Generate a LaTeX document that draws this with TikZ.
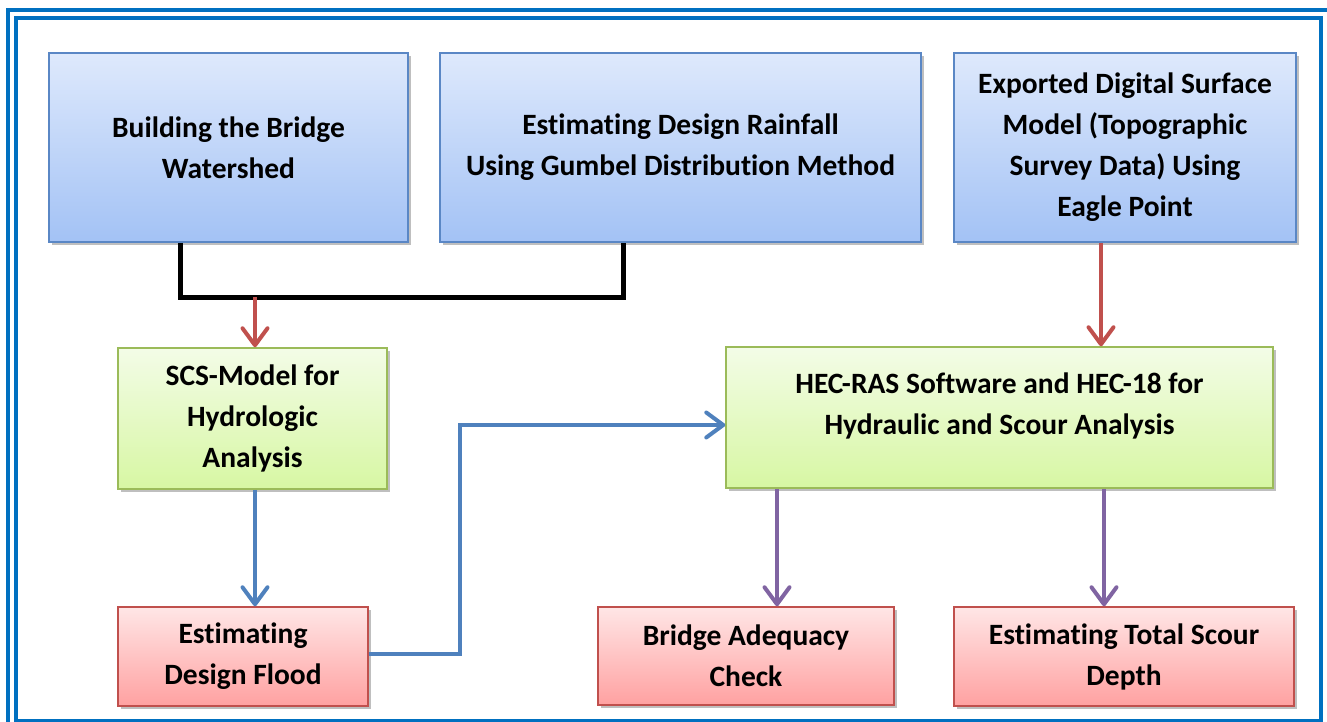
\documentclass[tikz,border=0pt]{standalone}
\usepackage{fontspec}
\setmainfont{Carlito}[Ligatures=NoCommon]
\usetikzlibrary{arrows.meta,shadows}
\definecolor{frameblue}{HTML}{0070C0}
\definecolor{bluetop}{HTML}{DEE9FC}
\definecolor{bluebot}{HTML}{A3C2F5}
\definecolor{blueedge}{HTML}{5A87C5}
\definecolor{greentop}{HTML}{F3FCE7}
\definecolor{greenbot}{HTML}{D7F7A3}
\definecolor{greenedge}{HTML}{9BBB59}
\definecolor{redtop}{HTML}{FFE6E6}
\definecolor{redbot}{HTML}{FFA1A1}
\definecolor{rededge}{HTML}{C0504D}
\definecolor{linkblue}{HTML}{4F81BD}
\definecolor{linkred}{HTML}{C0504D}
\definecolor{linkpurple}{HTML}{8064A2}
\tikzset{
  box/.style={rectangle, draw, line width=1.5pt, align=center,
    font=\fontsize{29.5}{41}\selectfont\bfseries, inner sep=0pt,
    drop shadow={shadow xshift=3pt, shadow yshift=-3pt, opacity=0.25, fill=black}},
  bluebox/.style={box, draw=blueedge, top color=bluetop, bottom color=bluebot},
  greenbox/.style={box, draw=greenedge, top color=greentop, bottom color=greenbot},
  redbox/.style={box, draw=rededge, top color=redtop, bottom color=redbot},
  tip/.style={-{Straight Barb[length=17pt,width=25pt,line cap=round,line join=round]}},
  redlink/.style={tip, draw=linkred, line width=4pt},
  bluelink/.style={draw=linkblue, line width=4pt, line join=miter},
  purplelink/.style={tip, draw=linkpurple, line width=4pt},
  blacklink/.style={draw=black, line width=5pt, line join=miter},
}
\begin{document}
\begin{tikzpicture}[x=1pt,y=-1pt]
\useasboundingbox (0,0) rectangle (1327,722);
% frame
\draw[frameblue, line width=4pt] (8,10.5) rectangle (1332,730);
\draw[frameblue, line width=4pt] (16,18) rectangle (1320.5,720.5);
% boxes
\node[bluebox, minimum width=359, minimum height=189] (b1) at (228.5,147.5) {Building the Bridge\\Watershed};
\node[bluebox, minimum width=481, minimum height=189] (b2) at (680.5,147.5) {Estimating Design Rainfall\\Using Gumbel Distribution Method};
\node[bluebox, minimum width=342, minimum height=189] (b3) at (1125,147.5) {Exported Digital Surface\\Model (Topographic\\Survey Data) Using\\Eagle Point};
\node[greenbox, minimum width=269, minimum height=141] (g1) at (252.5,418.5) {SCS-Model for\\Hydrologic\\Analysis};
\node[greenbox, minimum width=547, minimum height=141] (g2) at (999.5,417.5) {HEC-RAS Software and HEC-18 for\\Hydraulic and Scour Analysis\\[-13pt]\mbox{}};
\node[redbox, minimum width=250, minimum height=99] (r1) at (243,656.5) {Estimating\\Design Flood};
\node[redbox, minimum width=296, minimum height=98] (r2) at (746,656) {Bridge Adequacy\\Check};
\node[redbox, minimum width=340, minimum height=99] (r3) at (1124,656.5) {Estimating Total Scour\\Depth};
% junction points
\coordinate (j1) at (180,297);
\coordinate (j2) at (623,297);
\coordinate (jm) at (255,297);
\coordinate (k1) at (460,654);
\coordinate (k2) at (460,425);
\coordinate (p1) at (1101,0);
\coordinate (p2) at (777,0);
\coordinate (p3) at (1104,0);
\coordinate (q1) at (255,0);
% connectors
\draw[blacklink] (b1.south -| j1) -- (j1) -- (j2) -- (b2.south -| j2);
\draw[redlink] (jm) -- (g1.north -| jm);
\draw[redlink] (b3.south -| p1) -- (g2.north -| p1);
\draw[bluelink, tip] (g1.south -| q1) -- (r1.north -| q1);
\draw[bluelink, tip] (r1.east |- k1) -- (k1) -- (k2) -- (g2.west |- k2);
\draw[purplelink] (g2.south -| p2) -- (r2.north -| p2);
\draw[purplelink] (g2.south -| p3) -- (r3.north -| p3);
\end{tikzpicture}
\end{document}
